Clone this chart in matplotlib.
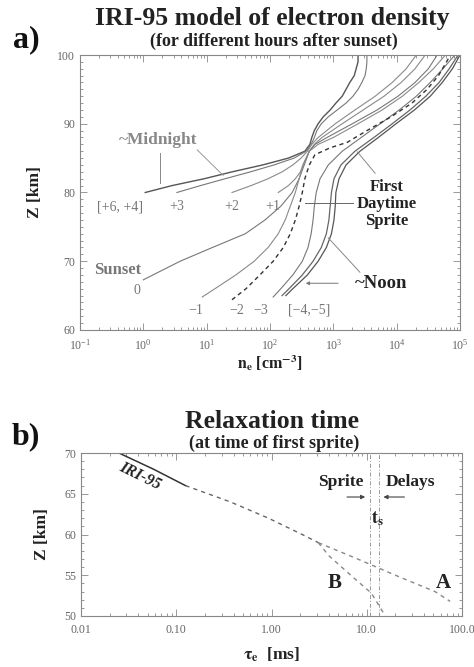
import numpy as np
import matplotlib
matplotlib.use("Agg")
import matplotlib.pyplot as plt
from matplotlib.ticker import MultipleLocator, LogLocator, NullFormatter, FixedLocator

plt.rcParams['font.family'] = ['Liberation Serif', 'DejaVu Serif']
plt.rcParams['mathtext.fontset'] = 'stix'

# ---- panel a: IRI-95 profiles, height [km] vs log10(ne [cm^-3]) ----
z_p4 = [80, 81, 82, 83, 84, 85, 86, 87, 88, 89, 90, 91, 92, 93, 94, 95, 96, 97, 98, 99, 100]
lg_p4 = [0.03, 0.45, 0.96, 1.40, 1.88, 2.29, 2.55, 2.63, 2.66, 2.70, 2.76, 2.84, 2.95, 3.04,
         3.14, 3.20, 3.26, 3.33, 3.36, 3.39, 3.39]
z_p3 = z_p4
lg_p3 = [0.53, 0.90, 1.29, 1.69, 2.06, 2.38, 2.57, 2.65, 2.70, 2.74, 2.81, 2.92, 3.06, 3.20,
         3.31, 3.39, 3.45, 3.50, 3.52, 3.53, 3.53]
z_p2 = [80, 81, 82, 83, 84, 85, 86, 87, 88, 90, 92, 94, 96, 98, 100]
lg_p2 = [1.40, 1.70, 1.97, 2.19, 2.36, 2.49, 2.59, 2.66, 2.76, 3.03, 3.34, 3.66, 3.93, 4.15, 4.31]
z_p1 = z_p2
lg_p1 = [2.13, 2.29, 2.40, 2.48, 2.52, 2.57, 2.62, 2.70, 2.82, 3.14, 3.47, 3.80, 4.07, 4.29, 4.45]
z_0 = [67.3, 68, 70, 72, 74, 76, 78, 80, 82, 84, 86, 87, 88, 90, 92, 94, 96, 98, 100]
lg_0 = [0.00, 0.15, 0.58, 1.09, 1.61, 1.92, 2.17, 2.35, 2.46, 2.54, 2.62, 2.71, 2.90, 3.30,
        3.69, 4.02, 4.29, 4.50, 4.64]
z_m1 = [64.8, 66, 68, 70, 72, 74, 76, 78, 80, 82, 84, 86, 87, 88, 90, 92, 94, 96, 98, 100]
lg_m1 = [0.93, 1.13, 1.46, 1.75, 1.97, 2.13, 2.24, 2.32, 2.40, 2.46, 2.52, 2.62, 2.76, 3.00,
         3.39, 3.77, 4.09, 4.35, 4.58, 4.77]
# first daytime sprite profile (dashed)
z_m2 = [64.4, 66, 68, 70, 72, 74, 76, 78, 80, 82, 84, 85.5, 86.5, 87.3, 89, 91, 93, 95, 97, 100]
lg_m2 = [1.40, 1.62, 1.84, 2.05, 2.21, 2.32, 2.40, 2.46, 2.51, 2.55, 2.62, 2.71, 2.95, 3.22,
         3.53, 3.91, 4.24, 4.48, 4.66, 4.85]
z_m3 = [64.8, 66, 68, 70, 72, 74, 76, 78, 80, 82, 84, 86, 88, 90, 92, 94, 96, 98, 100]
lg_m3 = [2.05, 2.17, 2.36, 2.51, 2.60, 2.65, 2.68, 2.70, 2.73, 2.79, 2.92, 3.14, 3.44, 3.74,
         4.04, 4.31, 4.53, 4.73, 4.92]
z_m45 = [65, 66, 68, 70, 72, 74, 76, 78, 80, 82, 84, 86, 88, 90, 92, 94, 96, 98, 100]
lg_m4 = [2.19, 2.30, 2.51, 2.68, 2.81, 2.89, 2.93, 2.95, 2.97, 3.01, 3.12, 3.34, 3.64, 3.93,
         4.21, 4.46, 4.67, 4.83, 4.97]
lg_m5 = [2.25, 2.36, 2.59, 2.76, 2.89, 2.97, 3.01, 3.03, 3.04, 3.09, 3.20, 3.42, 3.71, 3.99,
         4.28, 4.53, 4.72, 4.88, 5.00]

# ---- panel b: relaxation time [ms] vs height [km] ----
z_iri_solid = [70, 68, 66]
tau_iri_solid = [0.025, 0.058, 0.125]
z_iri = [66, 64, 62, 60, 59]
tau_iri = [0.125, 0.37, 0.93, 2.1, 3.1]
z_a = [59, 57, 55, 53, 51.8]
tau_a = [3.1, 8.0, 20.0, 52.0, 75.0]
z_b = [59, 57.4, 55, 52.8, 50.3, 50.0]
tau_b = [3.1, 4.0, 6.8, 11.2, 15.1, 15.6]
tau_delay = [10.7, 13.4]

W, H = 474, 667
fig = plt.figure(figsize=(W / 100, H / 100), dpi=100)

def fx(px):
    return px / W

def fy(py):
    return 1 - py / H

dark = '#222222'

def style_axes(ax):
    for s in ax.spines.values():
        s.set_color('#888888')
        s.set_linewidth(0.8)
    ax.tick_params(which='both', direction='in', top=True, right=True, colors='#888888',
                   labelcolor='#666666', labelsize=8.5, width=0.6)
    ax.tick_params(which='major', length=5)
    ax.tick_params(which='minor', length=2.5)

# ================= panel a =================
ax1 = fig.add_axes([fx(80), fy(330), fx(380), 275 / H])
ax1.set_xscale('log')
ax1.set_xlim(0.1, 1e5)
ax1.set_ylim(60, 100)

profiles = [(z_p4, lg_p4, '#555555', 1.0), (z_p3, lg_p3, '#777777', 0.8),
            (z_p2, lg_p2, '#8a8a8a', 0.8), (z_p1, lg_p1, '#8a8a8a', 0.8),
            (z_0, lg_0, '#777777', 0.8), (z_m1, lg_m1, '#8a8a8a', 0.8),
            (z_m3, lg_m3, '#777777', 0.8), (z_m45, lg_m4, '#666666', 0.9),
            (z_m45, lg_m5, '#555555', 0.9)]
for z, lg, c, lw in profiles:
    ax1.plot(10 ** np.array(lg), z, color=c, lw=lw)
ax1.plot(10 ** np.array(lg_m2), z_m2, color='#333333', lw=1.0, ls=(0, (3, 2.5)))

style_axes(ax1)
ax1.xaxis.set_major_locator(LogLocator(base=10, numticks=10))
ax1.xaxis.set_minor_locator(LogLocator(base=10, subs=np.arange(2, 10), numticks=10))
ax1.xaxis.set_minor_formatter(NullFormatter())
ax1.yaxis.set_major_locator(MultipleLocator(10))
ax1.yaxis.set_minor_locator(MultipleLocator(1))
ax1.tick_params(axis='x', pad=6)

ax1.set_xlabel(r'$\mathbf{n_e}$ [cm$^{\mathbf{-3}}$]', fontsize=11.5, fontweight='bold',
               color=dark, labelpad=0)
ax1.set_ylabel('Z [km]', fontsize=12.5, fontweight='bold', color=dark, labelpad=10)

lab = dict(color='#777777', fontsize=10, ha='center', va='center')
ax1.text(10 ** -0.37, 77.9, '[+6, +4]', **lab)
ax1.text(10 ** 0.53, 77.9, '+3', **lab)
ax1.text(10 ** 1.40, 77.9, '+2', **lab)
ax1.text(10 ** 2.05, 77.9, '+1', **lab)
ax1.text(10 ** -0.10, 65.8, '0', **lab)
ax1.text(10 ** 0.82, 62.9, '\u22121', **lab)
ax1.text(10 ** 1.48, 62.9, '\u22122', **lab)
ax1.text(10 ** 1.85, 62.9, '\u22123', **lab)
ax1.text(10 ** 2.62, 62.9, '[\u22124,\u22125]', **lab)
ax1.text(10 ** -0.41, 68.7, 'Sunset', color='#777777', fontsize=12, fontweight='bold',
         ha='center', va='center')
ax1.text(10 ** 0.23, 87.6, '~Midnight', color='#888888', fontsize=12.5, fontweight='bold',
         ha='center', va='center')
ax1.plot([10 ** 0.26, 10 ** 0.26], [85.7, 81.4], color='#888888', lw=0.7)
ax1.plot([10 ** 0.85, 10 ** 1.26], [86.2, 82.5], color='#999999', lw=0.7)

ax1.text(10 ** 3.84, 78.3, 'First\nDaytime\nSprite', color=dark, fontsize=12,
         fontweight='bold', ha='center', va='center', linespacing=1.1)
ax1.plot([10 ** 3.31, 10 ** 2.55], [78.5, 78.5], color='#666666', lw=0.7)
ax1.plot([10 ** 3.66, 10 ** 3.38], [82.8, 85.9], color='#888888', lw=0.7)

ax1.text(10 ** 3.76, 66.8, '~Noon', color=dark, fontsize=13.5, fontweight='bold',
         ha='center', va='center')
ax1.annotate('', xy=(10 ** 2.52, 66.8), xytext=(10 ** 3.12, 66.8),
             arrowprops=dict(arrowstyle='-|>', color='#777777', lw=0.7,
                             mutation_scale=5))
ax1.plot([10 ** 3.42, 10 ** 2.92], [68.4, 73.4], color='#888888', lw=0.7)

fig.text(fx(272), fy(19), 'IRI-95 model of electron density', fontsize=18.5,
         fontweight='bold', ha='center', va='center', color=dark)
fig.text(fx(274), fy(41), '(for different hours after sunset)', fontsize=13,
         fontweight='bold', ha='center', va='center', color=dark)
fig.text(fx(26), fy(40), 'a)', fontsize=23, fontweight='bold', ha='center',
         va='center', color='#111111')

# ================= panel b =================
ax2 = fig.add_axes([fx(81), fy(616), fx(381), 163 / H])
ax2.set_xscale('log')
ax2.set_xlim(0.01, 100)
ax2.set_ylim(50, 70)

ax2.plot(tau_iri_solid, z_iri_solid, color='#333333', lw=1.1)
ax2.plot(tau_iri, z_iri, color='#666666', lw=1.0, ls=(0, (3, 3)))
ax2.plot(tau_a, z_a, color='#888888', lw=1.0, ls=(0, (3, 3)))
ax2.plot(tau_b, z_b, color='#888888', lw=1.0, ls=(0, (3, 3)))
for t in tau_delay:
    ax2.axvline(t, color='#999999', lw=0.7, ls=(0, (4, 2, 1, 2)))

style_axes(ax2)
ax2.xaxis.set_major_locator(FixedLocator([0.01, 0.1, 1, 10, 100]))
ax2.set_xticklabels(['0.01', '0.10', '1.00', '10.0', '100.0'])
ax2.xaxis.set_minor_locator(LogLocator(base=10, subs=np.arange(2, 10), numticks=10))
ax2.xaxis.set_minor_formatter(NullFormatter())
ax2.yaxis.set_major_locator(MultipleLocator(5))
ax2.yaxis.set_minor_locator(MultipleLocator(1))
ax2.tick_params(axis='x', pad=6)

ax2.set_xlabel(r'$\mathbf{\tau_e}$  [ms]', fontsize=12.5, fontweight='bold', color=dark,
               labelpad=7)
ax2.set_ylabel('Z [km]', fontsize=12.5, fontweight='bold', color=dark, labelpad=10)

ax2.text(0.042, 67.2, 'IRI-95', rotation=-26, fontsize=11.5, fontweight='bold',
         style='italic', color=dark, ha='center', va='center')
ax2.text(5.3, 66.4, 'Sprite', fontsize=12.5, fontweight='bold', color=dark,
         ha='center', va='center')
ax2.text(28.5, 66.4, 'Delays', fontsize=12.5, fontweight='bold', color=dark,
         ha='center', va='center')
ax2.annotate('', xy=(10.3, 64.6), xytext=(5.8, 64.6),
             arrowprops=dict(arrowstyle='-|>', color='#444444', lw=0.8, mutation_scale=6))
ax2.annotate('', xy=(14.0, 64.6), xytext=(26.6, 64.6),
             arrowprops=dict(arrowstyle='-|>', color='#444444', lw=0.8, mutation_scale=6))
ax2.text(12.9, 62.0, r'$\mathbf{t_s}$', fontsize=13, color=dark, ha='center', va='center')
ax2.text(4.6, 54.0, 'B', fontsize=15, fontweight='bold', color=dark, ha='center',
         va='center')
ax2.text(64, 54.0, 'A', fontsize=15, fontweight='bold', color=dark, ha='center',
         va='center')

fig.text(fx(272), fy(421), 'Relaxation time', fontsize=18.5, fontweight='bold',
         ha='center', va='center', color=dark)
fig.text(fx(274), fy(443), '(at time of first sprite)', fontsize=13, fontweight='bold',
         ha='center', va='center', color=dark)
fig.text(fx(26), fy(437), 'b)', fontsize=23, fontweight='bold', ha='center',
         va='center', color='#111111')

fig.savefig('out.png', dpi=100, facecolor='white')
